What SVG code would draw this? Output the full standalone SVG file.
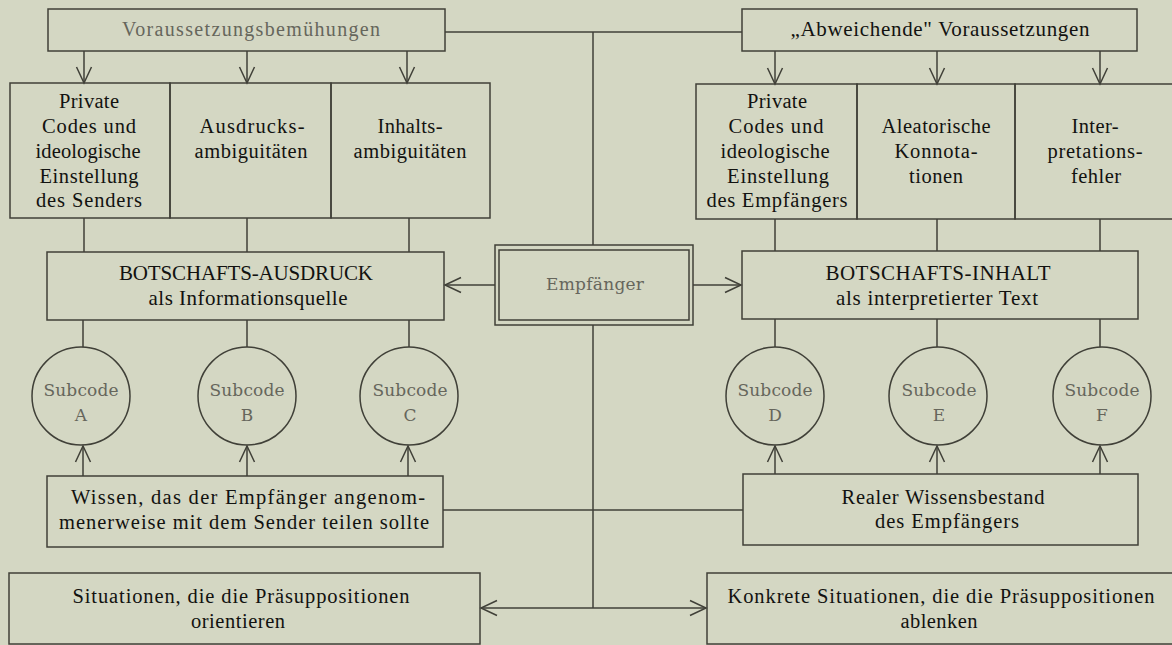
<svg xmlns="http://www.w3.org/2000/svg" width="1172" height="645" viewBox="0 0 1172 645">
<style>
.bg{fill:#d4d7c3}
.box{fill:none;stroke:#404038;stroke-width:1.5}
.ln{fill:none;stroke:#404038;stroke-width:1.5}
.t{font-family:"Liberation Serif","Times New Roman",serif;font-size:20.5px;fill:#121210;text-anchor:middle}
.tb{font-family:"Liberation Serif","Times New Roman",serif;font-size:21px;fill:#121210;text-anchor:middle}
.g{font-family:"DejaVu Serif","Liberation Serif",serif;font-size:17px;fill:#66665c;text-anchor:middle}
.gv{font-family:"Liberation Serif","Times New Roman",serif;font-size:20px;fill:#66665c;text-anchor:middle}
</style>
<defs>
<marker id="arr" viewBox="-17 -9 19 18" refX="0" refY="0" markerWidth="19" markerHeight="18" markerUnits="userSpaceOnUse" orient="auto">
<path d="M-16,-7.5 L0,0 L-16,7.5" fill="none" stroke="#404038" stroke-width="1.5"/>
</marker>
</defs>
<rect class="bg" x="0" y="0" width="1172" height="645"/>

<g id="connectors">
<path class="ln" d="M445,32 H742"/>
<path class="ln" d="M593,32 V245"/>
<path class="ln" d="M593,325 V608"/>
<path class="ln" d="M84,51 V83" marker-end="url(#arr)"/>
<path class="ln" d="M247,51 V83" marker-end="url(#arr)"/>
<path class="ln" d="M407,51 V83" marker-end="url(#arr)"/>
<path class="ln" d="M775,51 V84" marker-end="url(#arr)"/>
<path class="ln" d="M937,51 V84" marker-end="url(#arr)"/>
<path class="ln" d="M1100,51 V84" marker-end="url(#arr)"/>
<path class="ln" d="M84,218 V252 M247,218 V252 M409,218 V252"/>
<path class="ln" d="M775,219 V251 M937,219 V251 M1100,219 V251"/>
<path class="ln" d="M83,320 V347 M247,320 V347 M409,320 V347"/>
<path class="ln" d="M775,319 V347 M937,319 V347 M1100,319 V347"/>
<path class="ln" d="M83,476 V446" marker-end="url(#arr)"/>
<path class="ln" d="M247,476 V446" marker-end="url(#arr)"/>
<path class="ln" d="M408,476 V446" marker-end="url(#arr)"/>
<path class="ln" d="M775,474 V446" marker-end="url(#arr)"/>
<path class="ln" d="M937,474 V446" marker-end="url(#arr)"/>
<path class="ln" d="M1100,474 V446" marker-end="url(#arr)"/>
<path class="ln" d="M495,285 H445" marker-end="url(#arr)"/>
<path class="ln" d="M693,285 H741" marker-end="url(#arr)"/>
<path class="ln" d="M443,510 H743"/>
<path class="ln" d="M593,608 H481" marker-end="url(#arr)"/>
<path class="ln" d="M593,608 H706" marker-end="url(#arr)"/>
</g>

<g id="voraussetzungsbemuehungen">
<rect class="box" x="48" y="9" width="397" height="42"/>
<text class="gv" x="251" y="36" textLength="258" lengthAdjust="spacing">Voraussetzungsbemühungen</text>
</g>
<g id="abweichende">
<rect class="box" x="742" y="9" width="395" height="42"/>
<text class="tb" x="940" y="36" textLength="299" lengthAdjust="spacing">„Abweichende" Voraussetzungen</text>
</g>

<g id="private-sender">
<rect class="box" x="10" y="83" width="160" height="135"/>
<text class="t" x="89" y="108" textLength="60" lengthAdjust="spacing">Private</text>
<text class="t" x="89" y="133" textLength="94" lengthAdjust="spacing">Codes und</text>
<text class="t" x="88" y="158" textLength="105" lengthAdjust="spacing">ideologische</text>
<text class="t" x="89" y="183" textLength="99" lengthAdjust="spacing">Einstellung</text>
<text class="t" x="89" y="207" textLength="106" lengthAdjust="spacing">des Senders</text>
</g>
<g id="ausdrucksambiguitaeten">
<rect class="box" x="170" y="83" width="161" height="135"/>
<text class="t" x="252" y="133" textLength="105" lengthAdjust="spacing">Ausdrucks-</text>
<text class="t" x="251" y="158" textLength="113" lengthAdjust="spacing">ambiguitäten</text>
</g>
<g id="inhaltsambiguitaeten">
<rect class="box" x="331" y="83" width="159" height="135"/>
<text class="t" x="410" y="133" textLength="65" lengthAdjust="spacing">Inhalts-</text>
<text class="t" x="410" y="158" textLength="113" lengthAdjust="spacing">ambiguitäten</text>
</g>

<g id="private-empfaenger">
<rect class="box" x="696" y="84" width="161" height="135"/>
<text class="t" x="777" y="108" textLength="60" lengthAdjust="spacing">Private</text>
<text class="t" x="776" y="133" textLength="95" lengthAdjust="spacing">Codes und</text>
<text class="t" x="775" y="158" textLength="109" lengthAdjust="spacing">ideologische</text>
<text class="t" x="778" y="183" textLength="102" lengthAdjust="spacing">Einstellung</text>
<text class="t" x="777" y="207" textLength="141" lengthAdjust="spacing">des Empfängers</text>
</g>
<g id="aleatorische">
<rect class="box" x="857" y="84" width="158" height="135"/>
<text class="t" x="936" y="133" textLength="109" lengthAdjust="spacing">Aleatorische</text>
<text class="t" x="936" y="158" textLength="83" lengthAdjust="spacing">Konnota-</text>
<text class="t" x="936" y="183" textLength="54" lengthAdjust="spacing">tionen</text>
</g>
<g id="interpretationsfehler">
<rect class="box" x="1015" y="84" width="162" height="135"/>
<text class="t" x="1095" y="133" textLength="47" lengthAdjust="spacing">Inter-</text>
<text class="t" x="1095" y="158" textLength="95" lengthAdjust="spacing">pretations-</text>
<text class="t" x="1096" y="183" textLength="50" lengthAdjust="spacing">fehler</text>
</g>

<g id="botschafts-ausdruck">
<rect class="box" x="47" y="252" width="397" height="68"/>
<text class="tb" x="246" y="280" textLength="254" lengthAdjust="spacing">BOTSCHAFTS-AUSDRUCK</text>
<text class="tb" x="248" y="305" textLength="199" lengthAdjust="spacing">als Informationsquelle</text>
</g>
<g id="empfaenger">
<rect class="box" x="495" y="245" width="198" height="80"/>
<rect class="box" x="499" y="250" width="190" height="70"/>
<text class="g" x="595" y="290" textLength="98" lengthAdjust="spacing">Empfänger</text>
</g>
<g id="botschafts-inhalt">
<rect class="box" x="742" y="251" width="396" height="68"/>
<text class="tb" x="938" y="280" textLength="225" lengthAdjust="spacing">BOTSCHAFTS-INHALT</text>
<text class="tb" x="937" y="305" textLength="202" lengthAdjust="spacing">als interpretierter Text</text>
</g>

<g id="subcode-a"><circle class="box" cx="81" cy="396" r="49"/><text class="g" x="81" y="396" textLength="75" lengthAdjust="spacing">Subcode</text><text class="g" x="81" y="421">A</text></g>
<g id="subcode-b"><circle class="box" cx="247" cy="396" r="49"/><text class="g" x="247" y="396" textLength="75" lengthAdjust="spacing">Subcode</text><text class="g" x="247" y="421">B</text></g>
<g id="subcode-c"><circle class="box" cx="409" cy="396" r="49"/><text class="g" x="410" y="396" textLength="75" lengthAdjust="spacing">Subcode</text><text class="g" x="410" y="421">C</text></g>
<g id="subcode-d"><circle class="box" cx="775" cy="396" r="49"/><text class="g" x="775" y="396" textLength="75" lengthAdjust="spacing">Subcode</text><text class="g" x="775" y="421">D</text></g>
<g id="subcode-e"><circle class="box" cx="938" cy="396" r="49"/><text class="g" x="939" y="396" textLength="75" lengthAdjust="spacing">Subcode</text><text class="g" x="939" y="421">E</text></g>
<g id="subcode-f"><circle class="box" cx="1102" cy="396" r="49"/><text class="g" x="1102" y="396" textLength="75" lengthAdjust="spacing">Subcode</text><text class="g" x="1102" y="421">F</text></g>

<g id="wissen">
<rect class="box" x="47" y="476" width="396" height="71"/>
<text class="t" x="248" y="504" textLength="354" lengthAdjust="spacing">Wissen, das der Empfänger angenom-</text>
<text class="t" x="244" y="529" textLength="370" lengthAdjust="spacing">menerweise mit dem Sender teilen sollte</text>
</g>
<g id="realer-wissensbestand">
<rect class="box" x="743" y="474" width="395" height="71"/>
<text class="t" x="943" y="504" textLength="203" lengthAdjust="spacing">Realer Wissensbestand</text>
<text class="t" x="947" y="528" textLength="144" lengthAdjust="spacing">des Empfängers</text>
</g>
<g id="situationen">
<rect class="box" x="9" y="573" width="471" height="71"/>
<text class="t" x="241" y="603" textLength="337" lengthAdjust="spacing">Situationen, die die Präsuppositionen</text>
<text class="t" x="238" y="628" textLength="94" lengthAdjust="spacing">orientieren</text>
</g>
<g id="konkrete-situationen">
<rect class="box" x="707" y="573" width="470" height="71"/>
<text class="t" x="941" y="603" textLength="427" lengthAdjust="spacing">Konkrete Situationen, die die Präsuppositionen</text>
<text class="t" x="939" y="628" textLength="77" lengthAdjust="spacing">ablenken</text>
</g>
</svg>
